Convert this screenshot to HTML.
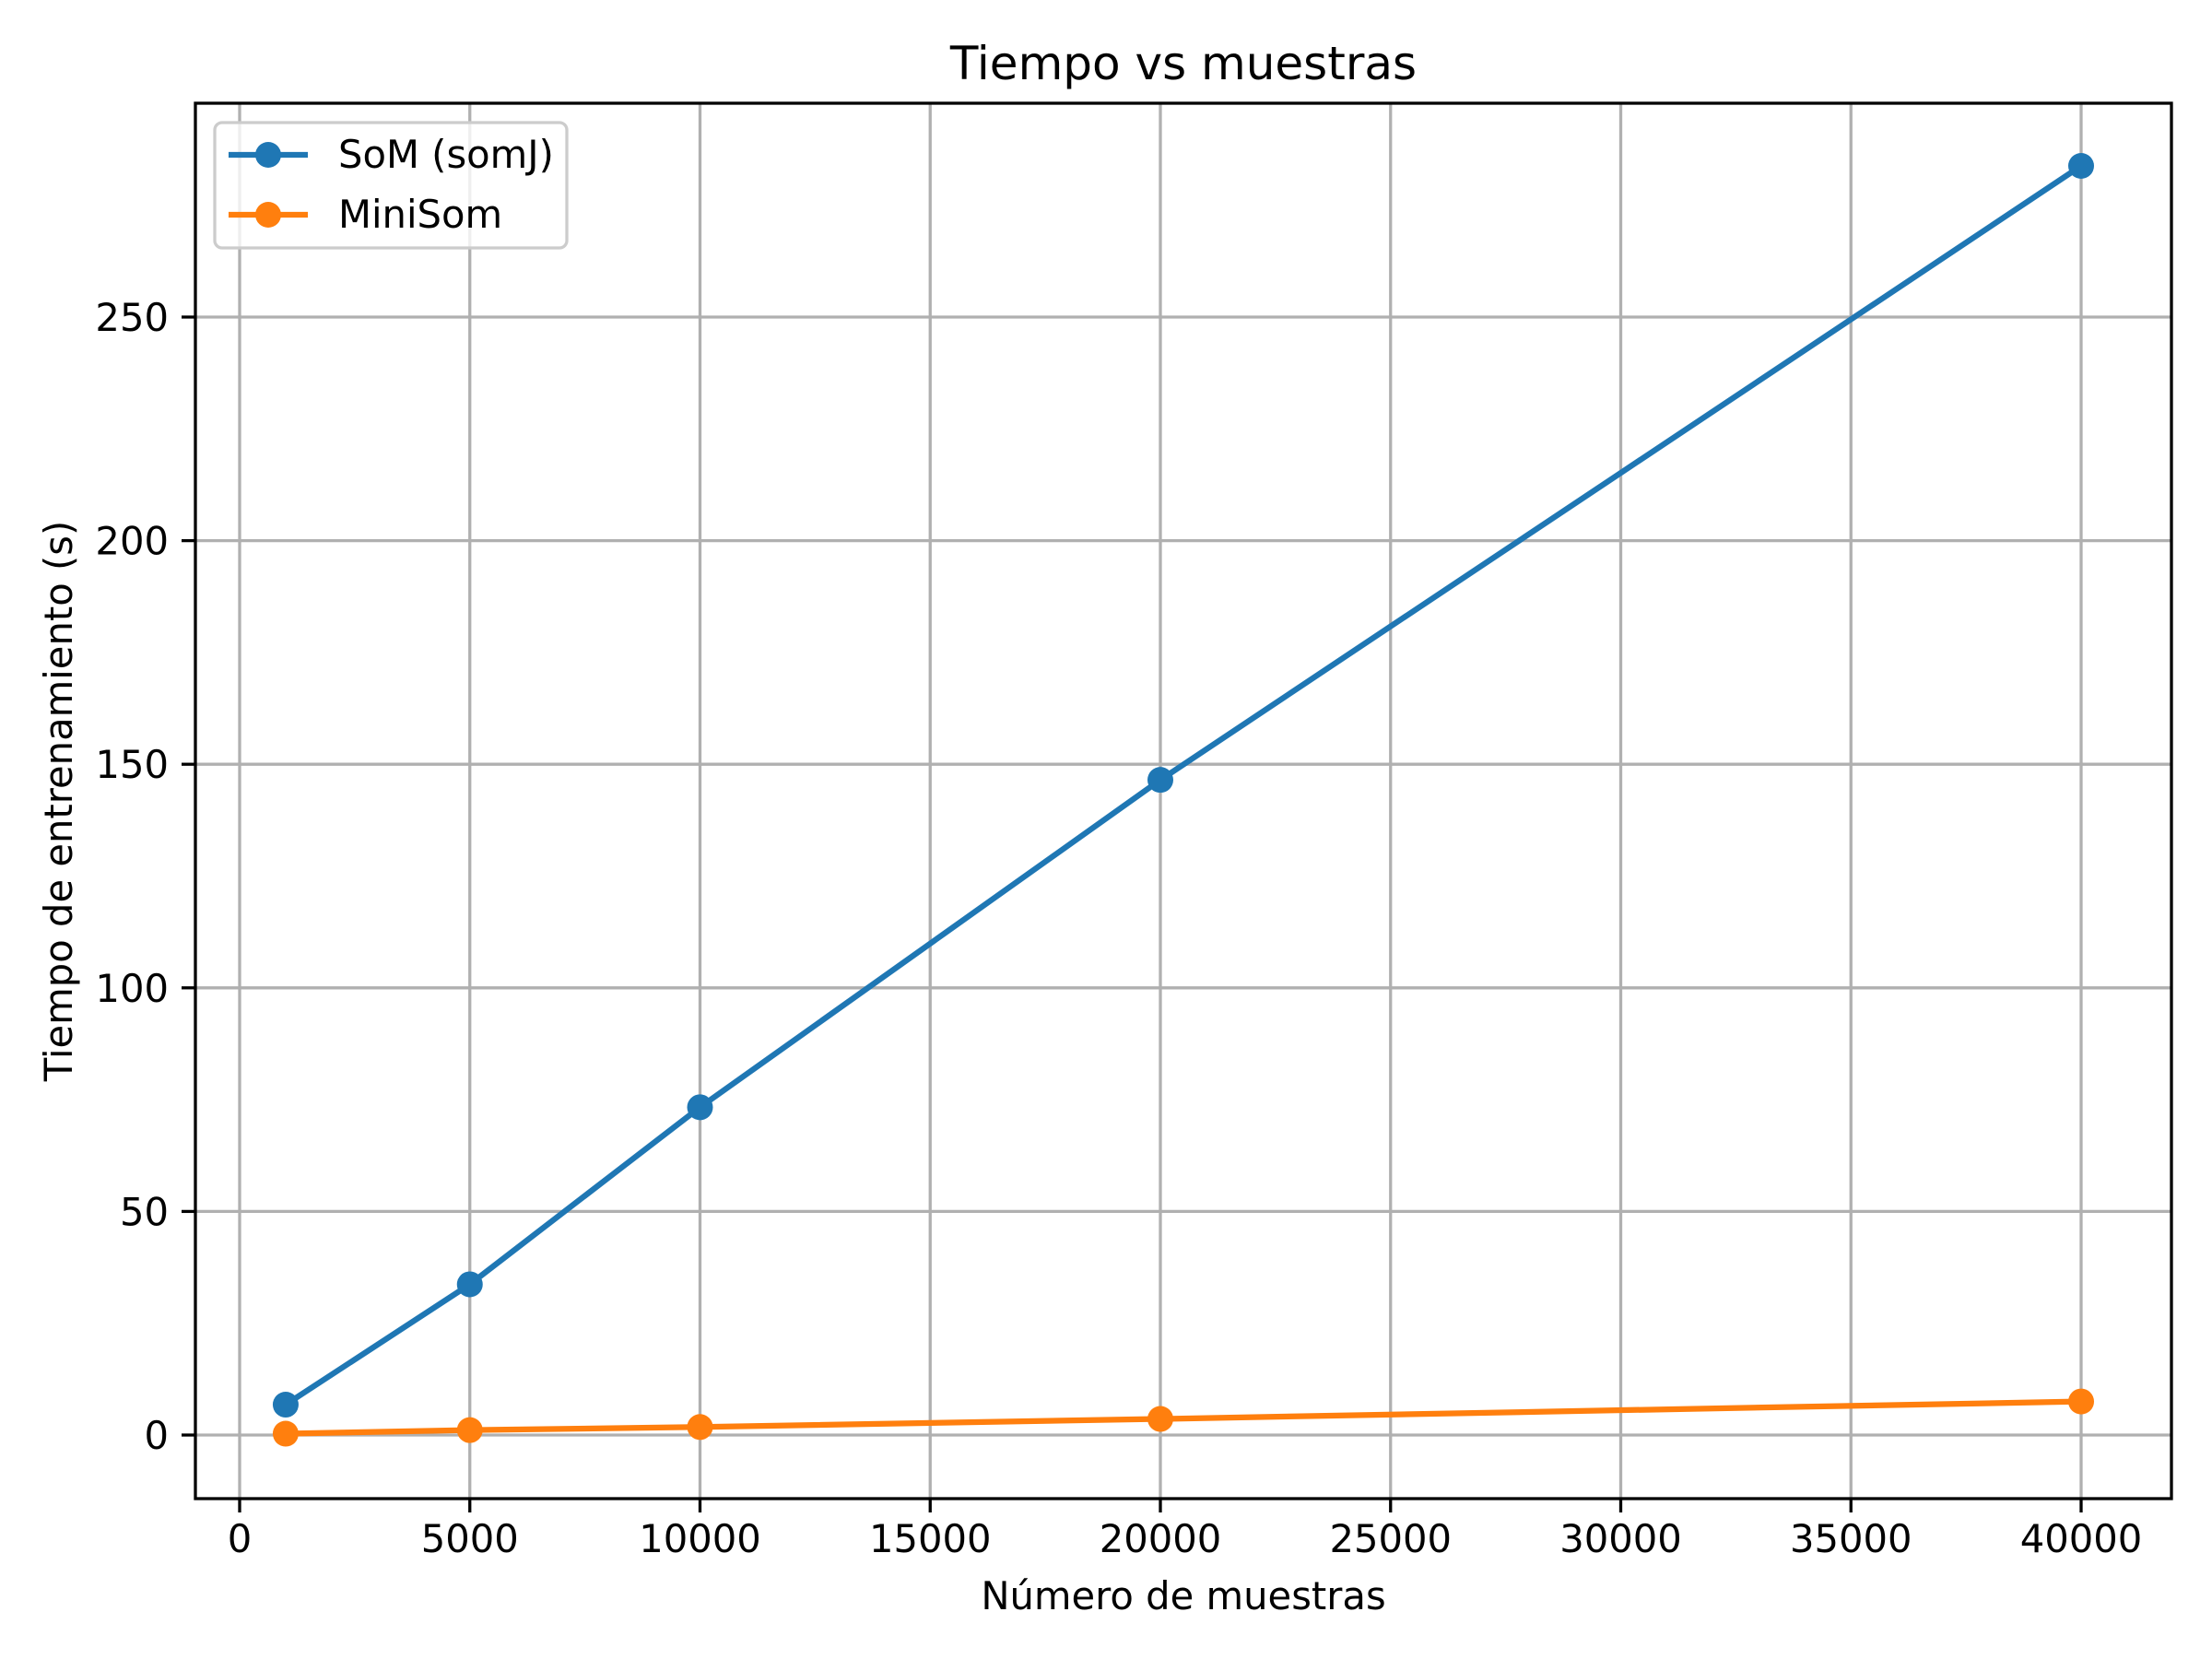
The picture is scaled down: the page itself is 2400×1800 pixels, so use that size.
<!DOCTYPE html>
<html><head><meta charset="utf-8"><style>body{margin:0;background:#fff}svg{display:block;font-family:"DejaVu Sans","Liberation Sans",sans-serif}</style></head>
<body>
<svg id="chart" width="2400" height="1800" viewBox="0 0 2400 1800" xmlns="http://www.w3.org/2000/svg">
<rect width="2400" height="1800" fill="#fff"/>
<g id="grid"></g>
<g id="series"></g>
<rect x="212" y="112" width="2144" height="1514" fill="none" stroke="#000" stroke-width="3.3"/>
<g id="ticks"></g>
<text x="1284" y="86" font-size="50" text-anchor="middle">Tiempo vs muestras</text>
<text x="1284" y="1746" font-size="41.7" text-anchor="middle">Número de muestras</text>
<text transform="translate(78,869) rotate(-90)" font-size="41.7" text-anchor="middle">Tiempo de entrenamiento (s)</text>
<g>
<rect x="233" y="133" width="382" height="136" rx="8" fill="#fff" fill-opacity="0.8" stroke="#ccc" stroke-width="3.3"/>
<line x1="248" y1="168" x2="334" y2="168" stroke="#1f77b4" stroke-width="6.25"/>
<circle cx="291" cy="168" r="14" fill="#1f77b4"/>
<text x="367" y="182" font-size="41.7">SoM (somJ)</text>
<line x1="248" y1="233" x2="334" y2="233" stroke="#ff7f0e" stroke-width="6.25"/>
<circle cx="291" cy="233" r="14" fill="#ff7f0e"/>
<text x="367" y="247" font-size="41.7">MiniSom</text>
</g>
</svg>
<script>
const xs = [1000, 5000, 10000, 20000, 40000];
const somJ = [6.8, 33.7, 73.3, 146.5, 283.8];
const miniSom = [0.3, 1.1, 1.8, 3.6, 7.5];
const xTicks = [0, 5000, 10000, 15000, 20000, 25000, 30000, 35000, 40000];
const yTicks = [0, 50, 100, 150, 200, 250];
const NS = 'http://www.w3.org/2000/svg';
const X = v => 260 + (v / 40000) * 1998;
const Y = v => 1557 - (v / 250) * 1213;
function mk(tag, attrs, parent, txt) {
  const e = document.createElementNS(NS, tag);
  for (const k in attrs) e.setAttribute(k, attrs[k]);
  if (txt !== undefined) e.textContent = txt;
  parent.appendChild(e);
  return e;
}
const grid = document.getElementById('grid'), ticks = document.getElementById('ticks'), series = document.getElementById('series');
xTicks.forEach(t => {
  const g = mk('line', {x1: X(t), x2: X(t), y1: 112, y2: 1626, stroke: '#b0b0b0', 'stroke-width': 3.3}, grid);
  
  
  const tk = mk('line', {x1: X(t), x2: X(t), y1: 1626, y2: 1641, stroke: '#000', 'stroke-width': 3.3}, ticks);
  
  
  const l = mk('text', {x: X(t), y: 1684, 'font-size': 41.7, 'text-anchor': 'middle'}, ticks, String(t));
  
  
});
yTicks.forEach(t => {
  const g = mk('line', {x1: 212, x2: 2356, y1: Y(t), y2: Y(t), stroke: '#b0b0b0', 'stroke-width': 3.3}, grid);
  
  
  const tk = mk('line', {x1: 197, x2: 212, y1: Y(t), y2: Y(t), stroke: '#000', 'stroke-width': 3.3}, ticks);
  
  
  const l = mk('text', {x: 183, y: Y(t) + 15, 'font-size': 41.7, 'text-anchor': 'end'}, ticks, String(t));
  
  
});
function drawSeries(vals, color, name) {
  const pl = mk('polyline', {points: xs.map((x, i) => X(x) + ',' + Y(vals[i])).join(' '), fill: 'none', stroke: color, 'stroke-width': 6.25, 'stroke-linejoin': 'round', 'stroke-linecap': 'square'}, series);
  
  
  xs.forEach((x, i) => {
    const c = mk('circle', {cx: X(x), cy: Y(vals[i]), r: 14, fill: color}, series);
    
    
  });
}
drawSeries(somJ, '#1f77b4', 'somj');
drawSeries(miniSom, '#ff7f0e', 'minisom');
</script>
</body></html>
